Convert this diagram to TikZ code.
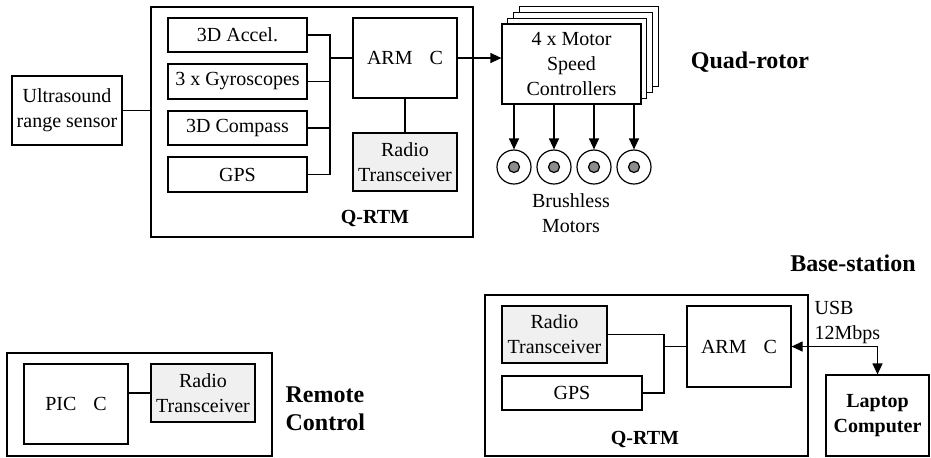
\documentclass[tikz,border=0pt]{standalone}
\usepackage{fontspec}
\setmainfont{Liberation Serif}
\usetikzlibrary{arrows.meta}
\definecolor{boxgray}{RGB}{239,240,239}
\definecolor{dotgray}{RGB}{140,140,140}
\begin{document}
\begin{tikzpicture}[x=0.5pt,y=-0.5pt,
  line width=0.6pt,
  sz/.style 2 args={minimum width=#1*0.5pt, minimum height=#2*0.5pt},
  box/.style={draw, fill=white, inner sep=0pt, align=center, font=\fontsize{10}{12.5}\selectfont},
  gbox/.style={box, fill=boxgray},
  frame/.style={draw, inner sep=0pt},
  lbl/.style={inner sep=0pt, align=center, font=\fontsize{10}{12.5}\selectfont},
  blbl/.style={inner sep=0pt, align=center, font=\fontsize{10}{12.5}\selectfont\bfseries},
  title/.style={inner sep=0pt, align=left, font=\fontsize{12}{14}\selectfont\bfseries},
  arr/.style={-{Triangle[length=5.5pt,width=5pt]}},
  darr/.style={{Triangle[length=5.5pt,width=5pt]}-{Triangle[length=5.5pt,width=5pt]}},
  motor/.style={circle, draw, fill=white, inner sep=0pt, minimum size=34*0.5pt},
  dot/.style={circle, draw, fill=dotgray, inner sep=0pt, minimum size=11*0.5pt}
]
\useasboundingbox (0,0) rectangle (931,457);

% ---------------- Quad-rotor ----------------
\node[frame, sz={322}{230}] (qrtmA) at (312,122) {};
\node[box, sz={139}{34}] (accel) at (237.5,35) {3D Accel.};
\node[box, sz={139}{35}] (gyro) at (237.5,81.5) {3 x Gyroscopes};
\node[box, sz={139}{34}] (compass) at (237.5,128) {3D Compass};
\node[box, sz={139}{35}] (gps1) at (237.5,174.5) {GPS};
\node[box, sz={104}{80}] (arm1) at (405,58) {ARM\hspace{8.5pt}C};
\node[gbox, sz={104}{58}] (radio1) at (405,162) {Radio\\Transceiver};
\node[box, sz={110}{69}] (ultra) at (67,110.5) {Ultrasound\\range sensor};
\node[blbl] (qlbl1) at (375,218) {Q-RTM};

\coordinate (bus1) at (330,0);
\draw (accel.east) -- (accel.east -| bus1) -- (gps1.east -| bus1) -- (gps1.east);
\draw (gyro.east) -- (gyro.east -| bus1);
\draw (compass.east) -- (compass.east -| bus1);
\draw (arm1.west) -- (arm1.west -| bus1);
\draw (arm1.south) -- (radio1.north);
\draw (ultra.east) -- (ultra.east -| qrtmA.west);

% motor speed controllers (stack)
\node[box, sz={139}{80}] (mscC) at (588.9,46.6) {};
\node[box, sz={139}{80}] (mscB) at (583.1,52.4) {};
\node[box, sz={139}{80}] (mscA) at (577.3,58.2) {};
\node[box, sz={139}{80}] (msc) at (571.5,64) {4 x Motor\\Speed\\Controllers};
\draw[arr] (arm1.east) -- (arm1.east -| msc.west);

\foreach \i/\x in {1/514,2/554,3/594,4/634}{
  \node[motor] (m\i) at (\x,167) {};
  \node[dot] (m\i d) at (m\i.center) {};
  \draw[arr] (msc.south -| m\i) -- (m\i.north);
}
\node[lbl] (bm) at (571,213) {Brushless\\Motors};
\node[title] (quad) at (750,62) {Quad-rotor};

% ---------------- Remote control ----------------
\node[frame, sz={265}{103}] (rcA) at (139.5,404.5) {};
\node[box, sz={104}{80}] (pic) at (76,404) {PIC\hspace{8.5pt}C};
\node[gbox, sz={104}{58}] (radio2) at (203,393) {Radio\\Transceiver};
\draw (radio2.west -| pic.east) -- (radio2.west);
\node[title, anchor=west] (rclbl) at (285,409) {Remote\\Control};

% ---------------- Base station ----------------
\node[title] (bslbl) at (853,263) {Base-station};
\node[frame, sz={323}{161}] (bsA) at (646.5,375.5) {};
\node[gbox, sz={105}{57}] (radio3) at (554.5,334.5) {Radio\\Transceiver};
\node[box, sz={140}{34}] (gps3) at (572,393) {GPS};
\node[box, sz={104}{81}] (arm3) at (739,346.5) {ARM\hspace{8.5pt}C};
\node[blbl] (qlbl2) at (645,439) {Q-RTM};
\coordinate (bus3) at (664,0);
\draw (radio3.east) -- (radio3.east -| bus3) -- (gps3.east -| bus3) -- (gps3.east);
\draw (arm3.west) -- (arm3.west -| bus3);

\node[box, sz={103}{81}, font=\fontsize{10}{12.5}\selectfont\bfseries] (laptop) at (877.5,415.5) {Laptop\\Computer};
\draw[darr] (arm3.east) -- (arm3.east -| laptop.north) -- (laptop.north);
\node[lbl, align=left, anchor=west] (usb) at (814,322) {USB\\12Mbps};
\end{tikzpicture}
\end{document}
